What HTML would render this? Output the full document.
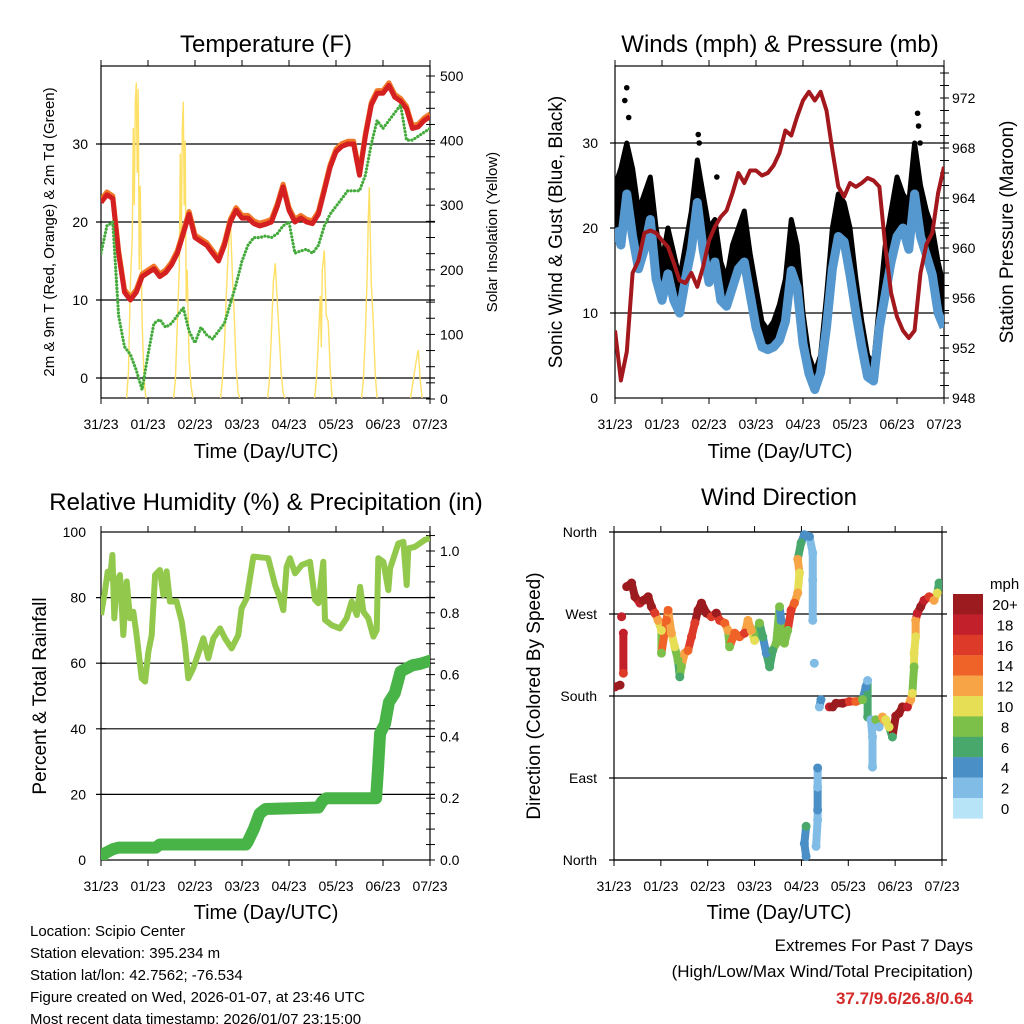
<!DOCTYPE html>
<html><head><meta charset="utf-8"><style>
html,body{margin:0;padding:0;background:#fff;}
svg{display:block;font-family:"Liberation Sans",sans-serif;}
</style></head><body>
<svg id="c" width="1024" height="1024" viewBox="0 0 1024 1024" xmlns="http://www.w3.org/2000/svg">
<rect width="1024" height="1024" fill="#fff"/>
<text x="266" y="52" font-size="24" text-anchor="middle">Temperature (F)</text>
<text x="780" y="52" font-size="24" text-anchor="middle">Winds (mph) &amp; Pressure (mb)</text>
<text x="266" y="510" font-size="24" text-anchor="middle">Relative Humidity (%) &amp; Precipitation (in)</text>
<text x="779" y="505" font-size="24" text-anchor="middle">Wind Direction</text>
<text x="266" y="458" font-size="20" text-anchor="middle">Time (Day/UTC)</text>
<text x="780" y="458" font-size="20" text-anchor="middle">Time (Day/UTC)</text>
<text x="266" y="919" font-size="20" text-anchor="middle">Time (Day/UTC)</text>
<text x="779" y="919" font-size="20" text-anchor="middle">Time (Day/UTC)</text>
<text transform="translate(54,232) rotate(-90)" font-size="15" text-anchor="middle">2m &amp; 9m T (Red, Orange) &amp; 2m Td (Green)</text>
<text transform="translate(497,232) rotate(-90)" font-size="15" text-anchor="middle">Solar Insolation (Yellow)</text>
<text transform="translate(562,232) rotate(-90)" font-size="19" text-anchor="middle">Sonic Wind &amp; Gust (Blue, Black)</text>
<text transform="translate(1013,232) rotate(-90)" font-size="19" text-anchor="middle">Station Pressure (Maroon)</text>
<text transform="translate(46,696) rotate(-90)" font-size="19" text-anchor="middle">Percent &amp; Total Rainfall</text>
<text transform="translate(540,696) rotate(-90)" font-size="19" text-anchor="middle">Direction (Colored By Speed)</text>
<g font-size="15">
<text x="30" y="936">Location: Scipio Center</text>
<text x="30" y="958">Station elevation: 395.234 m</text>
<text x="30" y="980">Station lat/lon: 42.7562; -76.534</text>
<text x="30" y="1002">Figure created on Wed, 2026-01-07, at 23:46 UTC</text>
<text x="30" y="1024">Most recent data timestamp: 2026/01/07 23:15:00</text>
</g>
<g text-anchor="end">
<text x="973" y="951" font-size="17">Extremes For Past 7 Days</text>
<text x="973" y="977" font-size="17">(High/Low/Max Wind/Total Precipitation)</text>
<text x="973" y="1004" font-size="17" font-weight="bold" fill="#d42a2a">37.7/9.6/26.8/0.64</text>
</g>
<defs>
<clipPath id="cp1"><rect x="101" y="66" width="329" height="332"/></clipPath>
<clipPath id="cp2"><rect x="615" y="66" width="329" height="332"/></clipPath>
<clipPath id="cp3"><rect x="101" y="532" width="329" height="328"/></clipPath>
<clipPath id="cp4"><rect x="614" y="528" width="328" height="336"/></clipPath>
</defs>
</svg>
<script>
// ---------- data ----------
const dayLabels=["31/23","01/23","02/23","03/23","04/23","05/23","06/23","07/23"];
const hours3=[0,3,6,9,12,15,18,21,24,27,30,33,36,39,42,45,48,51,54,57,60,63,66,69,72,75,78,81,84,87,90,93,96,99,102,105,108,111,114,117,120,123,126,129,132,135,138,141,144,147,150,153,156,159,162,165,168];
const tempVals=[22.5,23.5,23,16,11,10,11,13,13.5,14,13,13.5,14.5,16,18.5,21,18,17.5,17,16,15,17,20,21.5,20.5,20.5,19.8,19.5,19.7,20,22,24.5,21.5,20,20.5,20,19.8,21,24,27,29,29.7,30,30,26,31,35,36.5,36.5,37.5,36,35.5,34.5,32,32.2,33,33.5];
const dewVals=[16,19.5,20,8,4,3,1,-1.5,3,7,7.5,6.5,7,8,9,6,4.5,6.5,5.5,5,6,7,9.5,12,15,17,18,18,18.2,18,18.5,19.5,20,16,16.3,16.5,16,17,19.5,21,22,23,24,24,24,26,30,33,32,33,34,35,30.5,30.5,31,31.5,32];
const solarHours=[13,14,15,16,16.5,17,17.5,18,18.5,19,19.5,20,21,22,23, 37,38,39,40,40.5,41,41.5,42,42.5,43,43.5,44,45,46,47, 61,62,63,64,65,66,67,68,69,70,71, 85,86,87,88,89,90,91,92,93,94, 109,110,111,112,112.5,113,114,115,116,117,118, 133,134,135,136,136.5,137,137.5,138,139,140,141, 158,159,160,161,162,163,164];
const solarVals=[0,40,180,250,420,300,460,490,350,480,200,330,120,30,0, 0,30,120,200,380,250,420,460,300,400,150,200,60,20,0, 0,30,80,160,230,282,200,130,50,10,0, 0,30,100,180,210,150,100,40,10,0, 0,30,90,160,80,200,230,130,120,50,0, 0,30,100,200,280,328,250,180,120,40,0, 0,20,40,60,76,30,0];
const windVals=[20,18,24,19,15.2,17.5,21,14,11.5,14.6,11.5,10,14,17.5,23,17.5,13.6,16,11.5,10.8,13,15.2,16,12.2,8.3,6,5.7,6,6.8,9,15,13,6.4,2.9,1,3,8.3,15.2,19,18.4,14.5,10,6,2.5,2,8.3,12.2,16,19,20,17.5,24,19,16.8,14.5,10,8.3];
const gustVals=[25,27,30,27,22,24,26,20,16,20,17,14,18,22,28,24,20,21,16,14,18,20,22,17,13,9,8,9,11,14,21,18,10,5,3,5,12,20,24,23,20,14,9,5,4,11,18,22,26,24,23,30,25,22,20,16,13];
const gustPeakHours=[5,6,7,42.5,43,52,154.5,155,155.8];
const gustPeakVals=[35,36.5,33,31,30,26,33.5,32,30];
const pressVals=[953.4,949.4,951.7,958,959,961.2,961.4,961.2,960.6,960.1,958.8,957.4,957.2,958,956.9,958.5,960.6,961.7,962.5,963,964.4,966,965.2,966.2,966.2,965.8,966,966.6,967.6,969.4,969,970.5,971.8,972.5,971.8,972.5,971,967.8,964.9,964.1,965.2,964.9,965.2,965.6,965.4,964.9,960.1,956.4,954.5,953.4,952.8,953.4,958,960.3,961.2,964.4,966.5];
const rhHours=[0,2,3.4,4.6,5.8,6.8,8,9.7,11.4,13.1,14.8,16.5,18.2,20.8,22.5,24.2,25.9,27.6,30.1,31.8,33.5,35.2,38.6,41.2,42.9,44.6,47.1,50.6,52.3,54.8,57.4,60.8,63.3,66.7,70.1,71.8,74.4,77.8,85.4,88.9,91.4,93.1,94.8,96.5,99.1,102.5,106.7,109.3,111,113.5,114.4,117.8,122,125.4,128,130.6,132.3,134,136.5,139.1,140.8,141.6,144.2,146.7,147.6,151.8,154.4,156.1,156.9,160.3,165.4,168];
const rhVals=[74.7,81.8,87.9,85.9,93,73.7,84.9,86.9,68.6,84.9,73.7,75.7,68.6,55.4,54.4,63.5,68.6,86.9,88.4,80.8,88,78.8,78.8,72.7,65.5,55.4,58.4,64.5,67.6,61.5,67.6,70.6,67.6,64.5,68.6,76.7,79.8,92.5,92,83.8,79.8,76.2,89.4,92,87.4,89.9,90.9,79.3,78.3,90.9,73.2,71.6,70.6,73.7,78.8,74.7,83.3,75.7,73.7,68.1,70.1,92,90.9,82.3,88.9,96.5,97,83.8,95,95.5,97.6,98.1];
const precipHours=[0,1.5,3,6,9,28,30,74,75,78,81,84,111,113,115,140.5,141.5,142.5,145,147,150,153,156,159,163,168];
const precipVals=[0,0.02,0.025,0.035,0.04,0.04,0.05,0.05,0.06,0.1,0.15,0.165,0.17,0.19,0.2,0.2,0.3,0.41,0.44,0.51,0.54,0.61,0.62,0.63,0.635,0.645];
const dirHours=[0.5,3.1,3.9,4.8,4.8,6.5,9,10.7,13.3,15,17.5,19.2,20.9,22.6,24.3,24.3,26.9,27.7,29.4,31.1,32.8,33.7,34.5,36.2,37.9,39.7,41.4,43,44.8,47.3,49.9,52.4,54.1,56.7,58.4,59.2,61.8,64.3,66.9,68.6,70.3,72,74.5,76.2,78,79.7,81.3,83.1,84.8,85.6,87.3,89,90.7,92.4,94.1,95,94.1,95.8,97.5,100.1,101.8,101.8,101.8,102.6,104.3,104.3,104.3,104.3,103.5,98.4,97.5,98.4,105.2,106,110.3,112,113.7,117.1,120.5,123.9,127.3,129,129.9,129.9,131.6,132.4,132.4,134.1,135.8,137.5,139.2,140.9,142.6,144.3,146,147.7,150.3,152,152.8,153.7,153.7,154.5,154.5,155.4,157.1,158.8,161.4,163.9,165.6,166.5];
const dirVals=[190,192,267,205,249,300,304,289,282,285,289,278,271,263,252,227,263,274,249,234,219,201,212,227,230,245,260,274,282,271,267,271,263,260,252,234,249,245,249,263,252,241,260,245,227,212,230,238,278,263,238,252,274,282,293,315,330,348,357,355,337,307,263,216,101,80,55,44,15,37,18,4,168,176,168,168,172,172,174,174,176,190,197,157,154,135,102,154,146,157,154,146,135,158,161,168,168,176,183,212,227,245,263,271,278,285,289,285,293,304];
const dirSpeeds=[20,20,18,16,18,20,20,20,18,20,20,20,16,12,10,8,14,14,12,10,8,6,8,12,14,16,16,20,20,20,16,20,16,14,12,8,14,14,16,12,12,10,8,6,4,6,6,8,8,4,8,8,16,14,12,10,12,6,4,4,2,2,2,2,4,2,4,2,2,6,4,4,2,4,18,20,20,20,16,14,8,4,2,6,2,2,2,8,2,12,10,10,6,20,20,20,18,12,10,8,10,10,12,18,20,18,16,12,10,6];
const cbLabels=["20+","18","16","14","12","10","8","6","4","2","0"];
const cbColors=["#9b1b1e","#c2202a","#de3a2a","#ef6329","#f6a445","#e6de55","#7cc04a","#48a86c","#4a8fc6","#80bce6","#b8e4f8"];

// ---------- helpers ----------
const NS="http://www.w3.org/2000/svg";
const svg=document.getElementById("c");
function mk(tag,attrs,parent){const e=document.createElementNS(NS,tag);for(const k in attrs)e.setAttribute(k,attrs[k]);(parent||svg).appendChild(e);return e;}
function lin(d0,d1,r0,r1){return v=>r0+(v-d0)*(r1-r0)/(d1-d0);}
function pts(xs,ys,fx,fy){return xs.map((h,i)=>fx(h).toFixed(1)+","+fy(ys[i]).toFixed(1)).join(" ");}

function frame(x0,x1,y0,y1,name){
  const g=mk("g",{});
  
  
  mk("rect",{x:x0,y:y0,width:x1-x0,height:y1-y0,fill:"none",stroke:"#000","stroke-width":1.2},g);
  const fx=lin(0,168,x0,x1);
  for(let d=0;d<dayLabels.length;d++){
    const x=fx(d*24);
    mk("line",{x1:x,x2:x,y1:y0-6,y2:y0,stroke:"#000","stroke-width":1},g);
    mk("line",{x1:x,x2:x,y1:y1,y2:y1+6,stroke:"#000","stroke-width":1},g);
    const t=mk("text",{x:x,y:y1+31,"font-size":14,"text-anchor":"middle"},g);
    t.textContent=dayLabels[d];
    
    
  }
  return g;
}
function hgrid(g,y,x0,x1){mk("line",{x1:x0-5,x2:x1+5,y1:y,y2:y,stroke:"#000","stroke-width":1.2},g);}
function ylab(g,x,y,txt,anchor){const t=mk("text",{x:x,y:y+5,"font-size":14,"text-anchor":anchor},g);t.textContent=txt;}
function rminor(g,x,y){mk("line",{x1:x-4,x2:x+5,y1:y,y2:y,stroke:"#000","stroke-width":1},g);}

// ---------- Panel 1 ----------
(function(){
  const fx=lin(0,168,101,430), fy=lin(0,40,378,66), fs=lin(0,500,399,76);
  const g=frame(101,430,66,398,"temperature");
  [0,10,20,30].forEach(v=>{hgrid(g,fy(v),101,430);ylab(g,88,fy(v),String(v),"end");});
  for(let v=0;v<=500;v+=25){rminor(g,430,fs(v));}
  [0,100,200,300,400,500].forEach(v=>ylab(g,440,fs(v),String(v),"start"));
  const p=mk("g",{"clip-path":"url(#cp1)"});
  const s=mk("polyline",{points:pts(solarHours,solarVals,fx,fs),fill:"none",stroke:"#ffe066","stroke-width":1.4},p);
  
  
  const o=mk("polyline",{points:pts(hours3,tempVals.map(v=>v+0.35),fx,fy),fill:"none",stroke:"#f07828","stroke-width":5,"stroke-linejoin":"round"},p);
  
  
  const r=mk("polyline",{points:pts(hours3,tempVals,fx,fy),fill:"none",stroke:"#d42020","stroke-width":5,"stroke-linejoin":"round"},p);
  
  
  const d=mk("polyline",{points:pts(hours3,dewVals,fx,fy),fill:"none",stroke:"#44aa3c","stroke-width":3.2,"stroke-dasharray":"0.1,3.4","stroke-linecap":"round","stroke-linejoin":"round"},p);
  
  
})();

// ---------- Panel 2 ----------
(function(){
  const fx=lin(0,168,615,944), fy=lin(0,10,398,313), fp=lin(948,972,398,98);
  const g=frame(615,944,66,398,"winds");
  [10,20,30].forEach(v=>hgrid(g,fy(v),615,944));
  [0,10,20,30].forEach(v=>ylab(g,598,fy(v),String(v),"end"));
  for(let v=948;v<=974;v+=1){rminor(g,944,fp(v));}
  [948,952,956,960,964,968,972].forEach(v=>ylab(g,952,fp(v),String(v),"start"));
  const p=mk("g",{"clip-path":"url(#cp2)"});
  const top=hours3.map((h,i)=>fx(h).toFixed(1)+","+fy(gustVals[i]).toFixed(1));
  const bot=hours3.map((h,i)=>fx(h).toFixed(1)+","+fy(windVals[i]).toFixed(1)).reverse();
  const band=mk("polygon",{points:top.concat(bot).join(" "),fill:"#000"},p);
  
  
  const gl=mk("polyline",{points:pts(hours3,gustVals,fx,fy),fill:"none",stroke:"#000","stroke-width":5,"stroke-linejoin":"round","stroke-linecap":"round"},p);
  
  
  gustPeakHours.forEach((h,i)=>{
    const c=mk("circle",{cx:fx(h),cy:fy(gustPeakVals[i]),r:2.8,fill:"#000"},p);
    
    
  });
  const b=mk("polyline",{points:pts(hours3,windVals,fx,fy),fill:"none",stroke:"#5598cf","stroke-width":9,"stroke-linejoin":"round"},p);
  
  
  const pr=mk("polyline",{points:pts(hours3,pressVals,fx,fp),fill:"none",stroke:"#a3181c","stroke-width":4,"stroke-linejoin":"round"},p);
  
  
})();

// ---------- Panel 3 ----------
(function(){
  const fx=lin(0,168,101,430), fy=lin(0,100,860,532), fp=lin(0,1,860,551);
  const g=frame(101,430,532,860,"humidity");
  [20,40,60,80].forEach(v=>hgrid(g,fy(v),101,430));
  [0,20,40,60,80,100].forEach(v=>{ylab(g,86,fy(v),String(v),"end");mk("line",{x1:101,x2:106,y1:fy(v),y2:fy(v),stroke:"#000"},g);});
  for(let v=0;v<=1.06;v+=0.05){rminor(g,430,fp(v));}
  [0,0.2,0.4,0.6,0.8,1.0].forEach(v=>ylab(g,440,fp(v),v.toFixed(1),"start"));
  const p=mk("g",{"clip-path":"url(#cp3)"});
  const rh=mk("polyline",{points:pts(rhHours,rhVals,fx,fy),fill:"none",stroke:"#92c84c","stroke-width":6,"stroke-linejoin":"round"},p);
  
  
  const pc=mk("polyline",{points:pts(precipHours,precipVals,fx,fp),fill:"none",stroke:"#48b448","stroke-width":12,"stroke-linejoin":"round","stroke-linecap":"round"},p);
  
  
})();

// ---------- Panel 4 ----------
(function(){
  const fx=lin(0,168,614,942), fy=lin(0,360,860,532);
  const g=frame(614,942,532,860,"wind-direction");
  const dirNames=["North","East","South","West","North"];
  [0,90,180,270,360].forEach((v,i)=>{hgrid(g,fy(v),614,942);ylab(g,597,fy(v),dirNames[i],"end");});
  function col(s){let idx=10-Math.min(10,Math.round(s/2));return cbColors[idx];}
  const p=mk("g",{"clip-path":"url(#cp4)"});
  for(let i=1;i<dirHours.length;i++){
    if(Math.abs(dirVals[i]-dirVals[i-1])<45&&Math.abs(dirHours[i]-dirHours[i-1])<4){
      const l=mk("line",{x1:fx(dirHours[i-1]),y1:fy(dirVals[i-1]),x2:fx(dirHours[i]),y2:fy(dirVals[i]),stroke:col(dirSpeeds[i]),"stroke-width":8,"stroke-linecap":"round"},p);
      
      
    }
  }
  dirHours.forEach((h,i)=>{
    const c=mk("circle",{cx:fx(h),cy:fy(dirVals[i]),r:4.5,fill:col(dirSpeeds[i])},p);
    
    
  });
  const cb=mk("g",{});
  
  
  const t=mk("text",{x:990,y:589,"font-size":15},cb);t.textContent="mph";
  cbColors.forEach((c,i)=>{
    mk("rect",{x:953,y:594+i*20.4,width:30,height:20.6,fill:c},cb);
    const tt=mk("text",{x:1005,y:610+i*20.4,"font-size":15,"text-anchor":"middle"},cb);
    tt.textContent=cbLabels[i];
  });
})();
</script>
</body></html>
